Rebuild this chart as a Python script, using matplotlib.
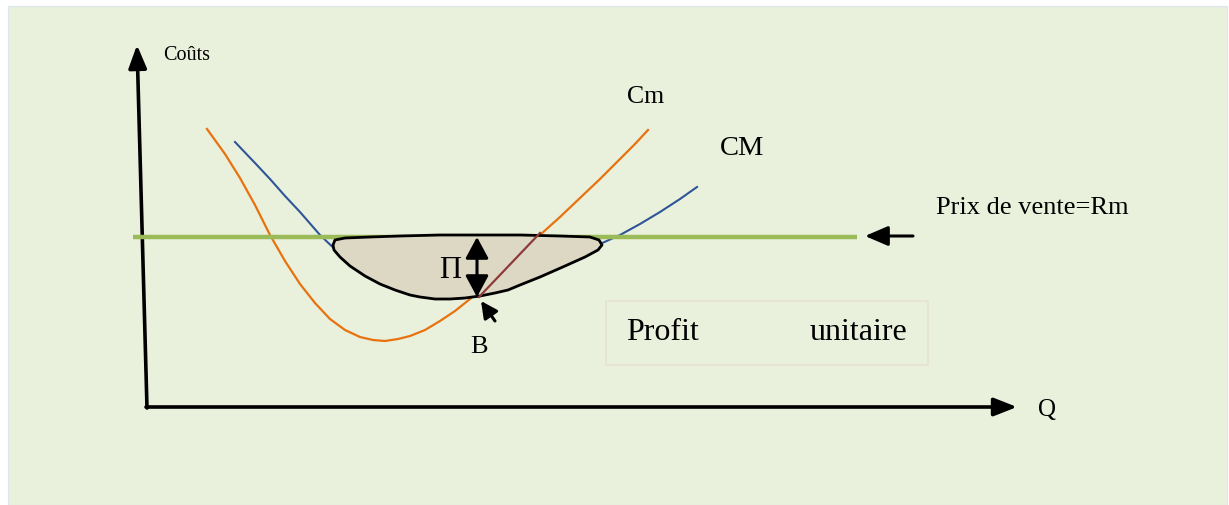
import matplotlib
import numpy as np

matplotlib.use("Agg")

from matplotlib import pyplot as plt  # noqa: E402
from matplotlib.patches import Polygon, Rectangle  # noqa: E402

# curve points (pixel coordinates, y downwards)
cm_x = [207, 225, 240, 255, 270, 285, 300, 315, 330, 345, 360, 373, 385, 398, 410, 425,
        440, 455, 470, 485, 500, 520, 540, 560, 580, 600, 620, 635, 648]
cm_y = [130, 155, 179, 206, 236, 262, 285, 304, 320, 331, 338, 341, 342, 340, 337, 331,
        322, 312, 300, 287, 273, 254, 236, 218, 199, 180, 160, 145, 131]

cM_x = [235, 255, 270, 285, 300, 320, 340, 360, 380, 400, 415, 430, 450, 465, 480, 495,
        510, 530, 550, 580, 600, 620, 640, 660, 680, 697]
cM_y = [143, 164, 180, 197, 213, 236, 255, 270, 282, 291, 296, 299, 300, 299, 297, 292,
        287, 278, 268, 253, 245, 236, 225, 213, 200, 188]

# profit area outline
profit_x = [335, 345, 370, 400, 440, 480, 520, 560, 590, 599, 602, 598, 585, 565, 540, 520,
            508, 495, 480, 465, 450, 435, 420, 410, 395, 380, 365, 350, 340, 334, 333]
profit_y = [241, 239, 238, 237, 236, 236, 236, 237, 238, 241, 246, 251, 258, 267, 278, 286,
            291, 294, 297, 299, 300, 300, 298, 296, 291, 285, 277, 267, 258, 251, 246]

price_y = 238
price_x = [133, 857]

fig = plt.figure(figsize=(12.29, 5.06), dpi=100)
ax = fig.add_axes([0, 0, 1, 1])
ax.set_xlim(0, 1229)
ax.set_ylim(506, 0)
ax.axis("off")

serif = "Liberation Serif"
ax.add_patch(Rectangle((8, 7), 1219, 499, facecolor="#E9F0DC", edgecolor="#DCE6EE", lw=0.8, zorder=0))


def arrow(head_length, head_width, lw=2.2):
    return dict(arrowstyle=f"-|>,head_length={head_length},head_width={head_width}",
                lw=lw, color="black", mutation_scale=10, shrinkA=0, shrinkB=0)


# axes arrows
ax.annotate("", xy=(137, 46), xytext=(147, 409), arrowprops=arrow(1.4, 0.55, 2.6))
ax.annotate("", xy=(1017, 408), xytext=(146, 408), arrowprops=arrow(1.4, 0.55, 2.6))

# curves
ax.plot(cm_x, cm_y, color="#E8720E", lw=1.6, zorder=2)
ax.plot(cM_x, cM_y, color="#2F5597", lw=1.5, zorder=2)
ax.plot(price_x, [price_y, price_y], color="#9BBB59", lw=3.2, zorder=3, solid_capstyle="butt")

ax.add_patch(Polygon(list(zip(profit_x, profit_y)), closed=True, facecolor="#DDD8C4",
                     edgecolor="black", lw=2, zorder=4, joinstyle="round"))
ax.plot([479, 540], [298, 234], color="#8E3A3A", lw=1.6, zorder=5)

# double arrow Pi
dbl = dict(arrowstyle="<|-|>,head_length=1.3,head_width=0.7", lw=2.2, color="black",
           mutation_scale=10, shrinkA=0, shrinkB=0)
ax.annotate("", xy=(477, 238), xytext=(477, 298), arrowprops=dbl, zorder=6)
ax.annotate("", xy=(481, 302), xytext=(495, 322), arrowprops=arrow(1.0, 0.5, 2.2))
ax.annotate("", xy=(865, 237), xytext=(913, 237), arrowprops=arrow(1.4, 0.6, 2.2))

ax.add_patch(Rectangle((606, 302), 322, 64, facecolor="none", edgecolor="#E6E2D6", lw=1.2, zorder=1))

ax.text(163, 55, "Coûts", family=serif, fontsize=14.5, va="center", ha="left")
ax.text(627, 97, "Cm", family=serif, fontsize=18.5, va="center", ha="left")
ax.text(720, 148, "CM", family=serif, fontsize=20.5, va="center", ha="left")
ax.text(936, 208, "Prix de vente=Rm", family=serif, fontsize=19, va="center", ha="left")
ax.text(1038, 410, "Q", family=serif, fontsize=18, va="center", ha="left")
ax.text(450, 270, "Π", family=serif, fontsize=22, va="center", ha="center", zorder=7)
ax.text(479, 347, "B", family=serif, fontsize=19, va="center", ha="center")
ax.text(626, 333, "Profit", family=serif, fontsize=23, va="center", ha="left")
ax.text(907, 333, "unitaire", family=serif, fontsize=23, va="center", ha="right")

fig.savefig("out.png", dpi=100, facecolor="white")
plt.close("all")
